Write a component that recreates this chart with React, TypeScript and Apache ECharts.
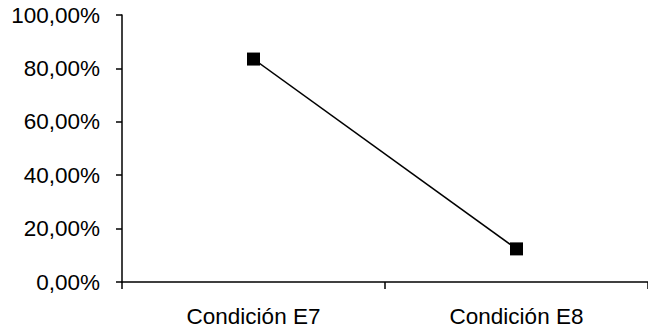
import React, { useEffect, useRef } from "react";
import * as echarts from "echarts";

const categories = ["Condición E7", "Condición E8"];
const values = [83.5, 12.4];
const yTicks = { min: 0, max: 100, interval: 20 };

export default function App() {
  const ref = useRef<HTMLDivElement>(null);
  useEffect(() => {
    const chart = echarts.init(ref.current!, null, { renderer: "svg" });
    const font = "'Liberation Sans', Arial, sans-serif";
    chart.setOption({
      animation: false,
      backgroundColor: "#ffffff",
      grid: { left: 122, top: 15, bottom: 49, right: -10, containLabel: false },
      xAxis: {
        type: "category",
        data: categories,
        boundaryGap: true,
        axisLine: { show: true, lineStyle: { color: "#000", width: 1.5 } },
        axisTick: { show: true, inside: false, length: 7, alignWithLabel: false, lineStyle: { color: "#000", width: 1.5 } },
        axisLabel: { color: "#000", fontSize: 22.5, fontFamily: font, margin: 23 },
        splitLine: { show: false },
      },
      yAxis: {
        type: "value",
        min: yTicks.min,
        max: yTicks.max,
        interval: yTicks.interval,
        axisLine: { show: true, lineStyle: { color: "#000", width: 1.5 } },
        axisTick: { show: true, inside: false, length: 6, lineStyle: { color: "#000", width: 1.5 } },
        axisLabel: {
          color: "#000",
          fontSize: 22.5,
          fontFamily: font,
          margin: 22,
          padding: [8, 0, 0, 0],
          formatter: (v: number) => v.toFixed(2).replace(".", ",") + "%",
        },
        splitLine: { show: false },
      },
      series: [
        {
          type: "line",
          data: values,
          symbol: "rect",
          symbolSize: 13,
          itemStyle: { color: "#000" },
          lineStyle: { color: "#000", width: 1.5 },
        },
      ],
    });
    return () => chart.dispose();
  }, []);
  return <div ref={ref} style={{ width: 648, height: 331, position: "absolute", left: 0, top: 0 }} />;
}
